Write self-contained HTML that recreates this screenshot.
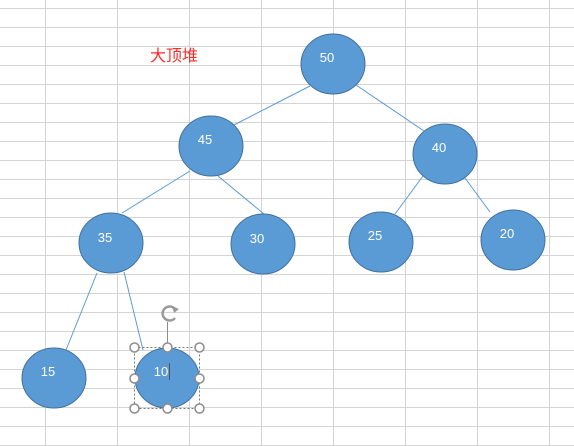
<!DOCTYPE html>
<html><head><meta charset="utf-8"><style>
html,body{margin:0;padding:0;background:#fff;}
</style></head><body>
<svg width="574" height="446" xmlns="http://www.w3.org/2000/svg" style="display:block">
<g stroke="#d4d4d4" stroke-width="1">
<line x1="45.5" y1="0" x2="45.5" y2="446"/><line x1="117.5" y1="0" x2="117.5" y2="446"/><line x1="189.5" y1="0" x2="189.5" y2="446"/><line x1="261.5" y1="0" x2="261.5" y2="446"/><line x1="333.5" y1="0" x2="333.5" y2="446"/><line x1="405.5" y1="0" x2="405.5" y2="446"/><line x1="477.5" y1="0" x2="477.5" y2="446"/><line x1="549.5" y1="0" x2="549.5" y2="446"/>
<line x1="0" y1="8.5" x2="574" y2="8.5"/><line x1="0" y1="27.5" x2="574" y2="27.5"/><line x1="0" y1="46.5" x2="574" y2="46.5"/><line x1="0" y1="65.5" x2="574" y2="65.5"/><line x1="0" y1="84.5" x2="574" y2="84.5"/><line x1="0" y1="103.5" x2="574" y2="103.5"/><line x1="0" y1="122.5" x2="574" y2="122.5"/><line x1="0" y1="141.5" x2="574" y2="141.5"/><line x1="0" y1="160.5" x2="574" y2="160.5"/><line x1="0" y1="179.5" x2="574" y2="179.5"/><line x1="0" y1="198.5" x2="574" y2="198.5"/><line x1="0" y1="217.5" x2="574" y2="217.5"/><line x1="0" y1="236.5" x2="574" y2="236.5"/><line x1="0" y1="255.5" x2="574" y2="255.5"/><line x1="0" y1="274.5" x2="574" y2="274.5"/><line x1="0" y1="293.5" x2="574" y2="293.5"/><line x1="0" y1="312.5" x2="574" y2="312.5"/><line x1="0" y1="331.5" x2="574" y2="331.5"/><line x1="0" y1="350.5" x2="574" y2="350.5"/><line x1="0" y1="369.5" x2="574" y2="369.5"/><line x1="0" y1="388.5" x2="574" y2="388.5"/><line x1="0" y1="407.5" x2="574" y2="407.5"/><line x1="0" y1="426.5" x2="574" y2="426.5"/><line x1="0" y1="445.5" x2="574" y2="445.5"/>
</g>
<text x="150" y="61" font-family="'Liberation Sans','Noto Sans CJK SC',sans-serif" font-size="16" fill="#ff2a2a">大顶堆</text>
<g stroke="#5b9bd5" stroke-width="1">
<line x1="310" y1="86" x2="232" y2="126"/><line x1="356" y1="85" x2="424" y2="131"/>
<line x1="190" y1="171" x2="122" y2="213"/><line x1="218" y1="176" x2="264" y2="214"/>
<line x1="423" y1="176" x2="395" y2="214"/><line x1="465" y1="178" x2="490" y2="212"/>
<line x1="97" y1="273" x2="66" y2="350"/><line x1="124" y1="272" x2="143" y2="350"/>
</g>
<g fill="#5b9bd5" stroke="#41719c" stroke-width="1">
<ellipse cx="333" cy="64" rx="32" ry="30"/><ellipse cx="211" cy="146" rx="32" ry="30"/><ellipse cx="445" cy="154" rx="32" ry="30"/>
<ellipse cx="111" cy="243" rx="32" ry="30"/><ellipse cx="263" cy="244" rx="32" ry="30"/><ellipse cx="381" cy="242" rx="32" ry="30"/><ellipse cx="513" cy="240" rx="32" ry="30"/>
<ellipse cx="54" cy="378" rx="32" ry="30"/><ellipse cx="167" cy="378" rx="32" ry="30"/>
</g>
<g fill="#fff" font-family="'Liberation Sans',sans-serif" font-size="13" text-anchor="middle">
<text x="327" y="62">50</text><text x="205" y="144">45</text><text x="439" y="152">40</text>
<text x="105" y="242">35</text><text x="257" y="243">30</text><text x="375" y="240">25</text><text x="507" y="238">20</text>
<text x="48" y="376">15</text><text x="161" y="376">10</text>
</g>
<line x1="169.5" y1="363" x2="169.5" y2="380" stroke="#555" stroke-width="1"/>
<rect x="134.5" y="347.5" width="65" height="61" fill="none" stroke="#777" stroke-dasharray="2,2"/>
<line x1="167.5" y1="322" x2="167.5" y2="347" stroke="#8c8c8c"/>
<path d="M175 318 A7 7 0 1 1 175 309" fill="none" stroke="#9a9a9a" stroke-width="2.5"/>
<path d="M172 306 L179 309 L174 313 Z" fill="#9a9a9a"/>
<g fill="#fff" stroke="#8c8c8c" stroke-width="1.5">
<circle cx="134.5" cy="347.5" r="4.5"/><circle cx="167.5" cy="347.5" r="4.5"/><circle cx="199.5" cy="347.5" r="4.5"/>
<circle cx="134.5" cy="378.5" r="4.5"/><circle cx="199.5" cy="378.5" r="4.5"/>
<circle cx="134.5" cy="408.5" r="4.5"/><circle cx="167.5" cy="408.5" r="4.5"/><circle cx="199.5" cy="408.5" r="4.5"/>
</g>
</svg>
</body></html>
